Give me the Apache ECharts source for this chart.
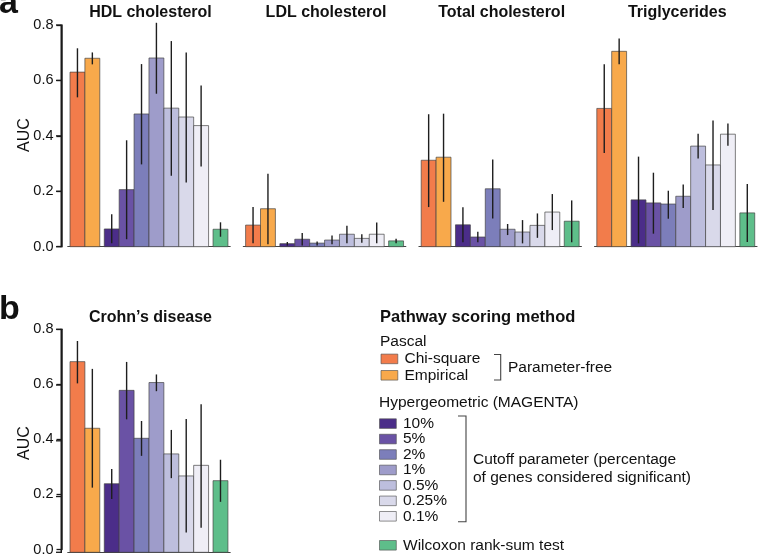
<!DOCTYPE html>
<html><head><meta charset="utf-8">
<script src="https://cdn.jsdelivr.net/npm/echarts@6/dist/echarts.min.js"></script>
<style>html,body{margin:0;padding:0;background:#fff}#c{width:759px;height:557px}</style>
</head><body><div id="c"></div><script>
// ---- data ----
const methods = ['Chi-square','Empirical','10%','5%','2%','1%','0.5%','0.25%','0.1%','Wilcoxon rank-sum test'];
const methodGroup = [0,0,1,1,1,1,1,1,1,2];
const methodColors = ['#f27c4b','#f8a94b','#4b2d89','#6a52a5','#7c7eba','#9e9cca','#bdbedd','#d9d9ea','#efeef6','#5ebe8a'];
const panelTitles = ['HDL cholesterol','LDL cholesterol','Total cholesterol','Triglycerides','Crohn\u2019s disease'];
const yTicks = [0, 0.2, 0.4, 0.6, 0.8];

const hdlAUC  = [0.630, 0.680, 0.064, 0.206, 0.479, 0.681, 0.500, 0.468, 0.437, 0.063];
const hdlLow  = [0.539, 0.658, 0.012, 0.027, 0.297, 0.552, 0.256, 0.232, 0.289, 0.036];
const hdlHigh = [0.716, 0.701, 0.117, 0.384, 0.659, 0.808, 0.742, 0.701, 0.582, 0.088];

const ldlAUC  = [0.078, 0.137, 0.011, 0.027, 0.013, 0.024, 0.045, 0.030, 0.045, 0.021];
const ldlLow  = [0.012, 0.009, 0.004, 0.004, 0.004, 0.009, 0.012, 0.014, 0.012, 0.012];
const ldlHigh = [0.143, 0.263, 0.017, 0.049, 0.019, 0.040, 0.076, 0.045, 0.087, 0.029];

const totalAUC  = [0.312, 0.323, 0.079, 0.035, 0.209, 0.063, 0.053, 0.077, 0.125, 0.092];
const totalLow  = [0.143, 0.162, 0.016, 0.016, 0.102, 0.042, 0.012, 0.032, 0.060, 0.016];
const totalHigh = [0.478, 0.480, 0.142, 0.054, 0.315, 0.082, 0.096, 0.120, 0.190, 0.167];

const trigAUC  = [0.499, 0.705, 0.169, 0.158, 0.154, 0.182, 0.363, 0.295, 0.406, 0.122];
const trigLow  = [0.338, 0.658, 0.012, 0.047, 0.101, 0.140, 0.318, 0.132, 0.364, 0.017];
const trigHigh = [0.658, 0.751, 0.325, 0.267, 0.202, 0.224, 0.408, 0.455, 0.445, 0.226];

const crohnAUC  = [0.684, 0.445, 0.246, 0.581, 0.409, 0.609, 0.353, 0.274, 0.312, 0.257];
const crohnLow  = [0.606, 0.232, 0.191, 0.477, 0.346, 0.578, 0.266, 0.071, 0.088, 0.181];
const crohnHigh = [0.758, 0.658, 0.299, 0.683, 0.471, 0.638, 0.439, 0.478, 0.531, 0.332];

// ---- layout ----
const FONT = '"Liberation Sans", Arial, Helvetica, sans-serif';
const panelData = [
  [hdlAUC, hdlLow, hdlHigh], [ldlAUC, ldlLow, ldlHigh], [totalAUC, totalLow, totalHigh],
  [trigAUC, trigLow, trigHigh], [crohnAUC, crohnLow, crohnHigh]
];
const BW = 14.9, GAP = 0.3, XMIN = -0.15, XMAX = 10 + 2*GAP + 0.15;
const barsLeft = [70, 245.6, 421.2, 596.8, 70];
const gridTop = [25, 25, 25, 25, 329.3];
const gridH = [221.7, 221.7, 221.7, 221.7, 223];
const AXIS_X = 61.5;
function xPos(i){ return i + 0.5 + methodGroup[i]*GAP; }

const grids = [], xAxes = [], yAxes = [], series = [], graphics = [];
function renderBar(params, api){
  const x = api.value(0), v = api.value(1);
  const p0 = api.coord([x-0.5, v]), p1 = api.coord([x+0.5, 0]);
  const lo = api.coord([x, api.value(2)]), hi = api.coord([x, api.value(3)]);
  return {type:'group', children:[
    {type:'rect', shape:{x:p0[0], y:p0[1], width:p1[0]-p0[0], height:p1[1]-p0[1]},
     style:{fill: methodColors[params.dataIndex], stroke:'rgba(65,65,65,0.85)', lineWidth:0.8}},
    {type:'line', shape:{x1:lo[0], y1:lo[1], x2:hi[0], y2:hi[1]},
     style:{stroke:'#1e1e1e', lineWidth:1.4}}
  ]};
}
const yBase = {type:'value', min:yTicks[0], max:yTicks[yTicks.length-1], interval:yTicks[1]-yTicks[0], splitLine:{show:false}};
panelData.forEach((d, p) => {
  const left = barsLeft[p] + XMIN*BW;
  grids.push({left: left, top: gridTop[p], width: (XMAX-XMIN)*BW, height: gridH[p]});
  xAxes.push({gridIndex:p, type:'value', min:XMIN, max:XMAX, axisLine:{show:true, onZero:false, lineStyle:{color:'#444', width:1.2}},
    axisTick:{show:false}, axisLabel:{show:false}, splitLine:{show:false}});
  yAxes.push(Object.assign({gridIndex:p, show:false}, yBase));
  series.push({type:'custom', xAxisIndex:p, yAxisIndex:p, clip:false, renderItem:renderBar,
    encode:{x:0, y:1},
    data: d[0].map((v,i)=>[xPos(i), v, d[1][i], d[2][i]])});
  const cx = barsLeft[p] + (10+2*GAP)*BW/2 + 1.5;
  const base = p===4 ? 322.7 : 18.3;
  graphics.push({type:'text', x:cx, y:base-5.6, style:{text:panelTitles[p], font:'bold 16px '+FONT, fill:'#111', align:'center', verticalAlign:'middle'}});
});
// narrow grids carrying the visible AUC axes (panel a-HDL and panel b)
[0, 4].forEach((p) => {
  const gi = grids.length;
  grids.push({left: AXIS_X, top: gridTop[p], width: 2, height: gridH[p]});
  xAxes.push({gridIndex:gi, type:'value', min:0, max:1, show:false});
  yAxes.push(Object.assign({gridIndex:gi, show:true, position:'left', z:10,
    axisLine:{show:true, onZero:false, lineStyle:{color:'#1a1a1a', width:1.5}},
    axisTick:{show:true, length:5, lineStyle:{color:'#1a1a1a', width:1.3}},
    axisLabel:{show:true, margin:8, fontSize:14.5, color:'#111', fontFamily:FONT, formatter:v=>v.toFixed(1)}}, yBase));
  // explicit axis rule and ticks from the same layout and tick values
  const top = gridTop[p], h = gridH[p], vmax = yTicks[yTicks.length-1];
  graphics.push({type:'rect', z:100, shape:{x:60.5, y:top-0.6, width:1.5, height:h+1.2}, style:{fill:'#1a1a1a'}});
  yTicks.forEach((t) => {
    const y = top + h*(1 - t/vmax);
    graphics.push({type:'rect', z:100, shape:{x:56, y:y-0.65, width:5, height:1.3}, style:{fill:'#1a1a1a'}});
  });
});

function txt(s, x, baseline, size, bold, align){
  return {type:'text', x:x, y:baseline-0.35*size, style:{text:s, font:(bold?'bold ':'')+size+'px '+FONT, fill:'#111', align:align||'left', verticalAlign:'middle'}};
}
graphics.push(txt('a', -1, 15.7, 34, true));
graphics.push(txt('b', -1, 321.7, 34, true));
graphics.push({type:'text', x:25, y:135, rotation:Math.PI/2, style:{text:'AUC', font:'16px '+FONT, fill:'#111', align:'center', verticalAlign:'middle'}});
graphics.push({type:'text', x:25, y:443, rotation:Math.PI/2, style:{text:'AUC', font:'16px '+FONT, fill:'#111', align:'center', verticalAlign:'middle'}});

// legend
const LF = 15.5;
graphics.push(txt('Pathway scoring method', 380, 323.3, 16.5, true));
graphics.push(txt('Pascal', 380, 346.7, LF, false));
function sw(i, x, baseline){
  graphics.push({type:'rect', shape:{x:x, y:baseline-10.2, width:16.8, height:9.6},
    style:{fill:methodColors[i], stroke:'rgba(80,80,80,0.8)', lineWidth:0.8}});
  graphics.push(txt(methods[i], x+23.5, baseline, LF, false));
}
sw(0, 381, 364.3);
sw(1, 381, 380.7);
graphics.push({type:'polyline', shape:{points:[[494,354.5],[500.7,354.5],[500.7,380],[494,380]]}, style:{stroke:'#444', lineWidth:1.1, fill:null}});
graphics.push(txt('Parameter-free', 508, 372.7, LF, false));
graphics.push(txt('Hypergeometric (MAGENTA)', 379, 408.3, LF, false));
for (let k=2; k<=8; k++) sw(k, 379.5, 429 + 15.45*(k-2));
graphics.push({type:'polyline', shape:{points:[[458,416],[466,416],[466,521.7],[458,521.7]]}, style:{stroke:'#444', lineWidth:1.1, fill:null}});
graphics.push(txt('Cutoff parameter (percentage', 473, 465, LF, false));
graphics.push(txt('of genes considered significant)', 473, 483.3, LF, false));
sw(9, 379.5, 550.7);

const chart = echarts.init(document.getElementById('c'), null, {renderer:'canvas'});
chart.setOption({
  animation:false, backgroundColor:'#fff',
  grid:grids, xAxis:xAxes, yAxis:yAxes, series:series, graphic:graphics
});
</script></body></html>
